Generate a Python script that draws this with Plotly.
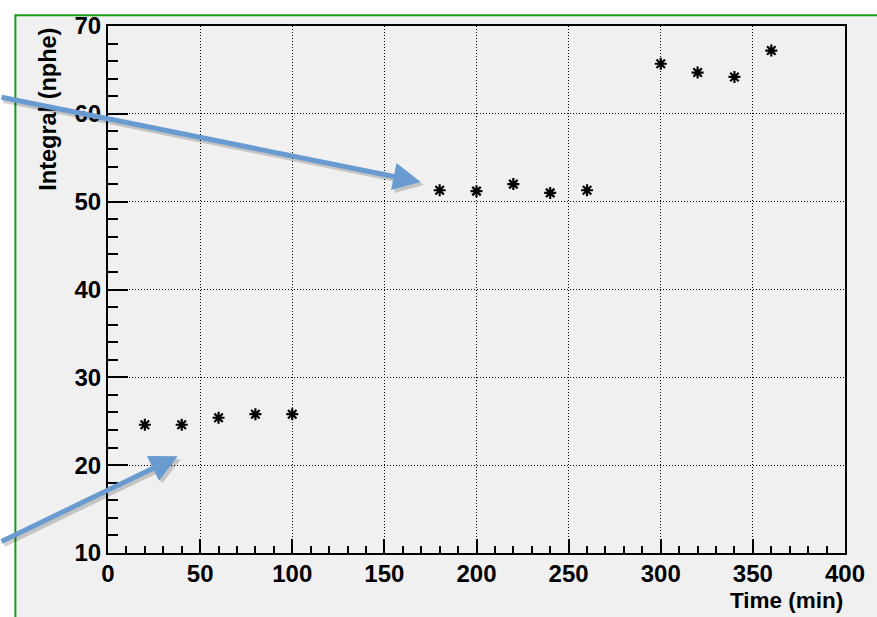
import plotly.graph_objects as go

# Data
time_min = [20, 40, 60, 80, 100, 180, 200, 220, 240, 260, 300, 320, 340, 360]
integral_nphe = [24.6, 24.6, 25.4, 25.8, 25.8, 51.3, 51.2, 52.0, 51.0, 51.3, 65.7, 64.7, 64.2, 67.2]

x_title = "Time (min)"
y_title = "Integral (nphe)"

W, H = 877, 617
L, R, T, B = 108, 29, 19, 64
pw, ph = W - L - R, H - T - B

def px2paper_x(px):
    return (px - L) / pw

def px2paper_y(py):
    return (H - B - py) / ph

FONT = "Liberation Sans, Arial, Helvetica, sans-serif"
BG = "#f0f0f0"
ARROW = "#6a9bd0"

fig = go.Figure()
fig.add_trace(go.Scatter(
    x=time_min, y=integral_nphe, mode="markers",
    marker=dict(symbol="asterisk-open", size=10, color="black",
                line=dict(color="black", width=2.2)),
    showlegend=False, cliponaxis=False,
))

axis_common = dict(
    showline=True, linecolor="black", linewidth=2, mirror=True,
    showgrid=True, gridcolor="black", gridwidth=1, griddash="1px,2px",
    ticks="inside", tickcolor="black", tickwidth=2,
    tickfont=dict(family=FONT, size=24, color="black", weight="bold"),
    zeroline=False,
)

fig.update_xaxes(
    range=[0, 400], dtick=50, tick0=0, ticklen=14,
    minor=dict(dtick=10, ticks="inside", ticklen=7, tickcolor="black", tickwidth=2, showgrid=False),
    ticklabelstandoff=-2,
    **axis_common,
)
fig.update_yaxes(
    range=[10, 70], dtick=10, tick0=10, ticklen=20,
    minor=dict(dtick=2, ticks="inside", ticklen=10, tickcolor="black", tickwidth=2, showgrid=False),
    ticklabelstandoff=0,
    **axis_common,
)

shapes = [
    dict(type="rect", xref="paper", yref="paper", layer="below",
         x0=px2paper_x(15), x1=px2paper_x(900), y0=px2paper_y(640), y1=px2paper_y(8),
         fillcolor=BG, line=dict(color="#1a9a1a", width=2)),
]

annotations = [
    dict(text=y_title, textangle=-90, xref="paper", yref="paper",
         x=px2paper_x(47), y=px2paper_y(19), xanchor="center", yanchor="top",
         showarrow=False, font=dict(family=FONT, size=23.5, color="black", weight="bold")),
    dict(text=x_title, xref="paper", yref="paper",
         x=px2paper_x(848), y=px2paper_y(601), xanchor="right", yanchor="middle",
         showarrow=False, font=dict(family=FONT, size=22.5, color="black", weight="bold")),
]

# pointing arrows (tail -> head), with soft shadow
arrows = [((0, 92), (422, 177)), ((0, 541), (178, 455))]
for (tx, ty), (hx, hy) in arrows:
    for dx, dy, col in [(3, 3, "rgba(0,0,0,0.18)"), (0, 0, ARROW)]:
        annotations.append(dict(
            xref="paper", yref="paper", axref="pixel", ayref="pixel",
            x=px2paper_x(hx + dx), y=px2paper_y(hy + dy),
            ax=tx - hx, ay=ty - hy,
            text="", showarrow=True, arrowhead=2, arrowsize=1.1,
            arrowwidth=5, arrowcolor=col,
        ))

fig.update_layout(
    width=W, height=H,
    margin=dict(l=L, r=R, t=T, b=B),
    paper_bgcolor="white", plot_bgcolor=BG,
    shapes=shapes, annotations=annotations,
    font=dict(family=FONT),
)

fig.write_html("out.html")
